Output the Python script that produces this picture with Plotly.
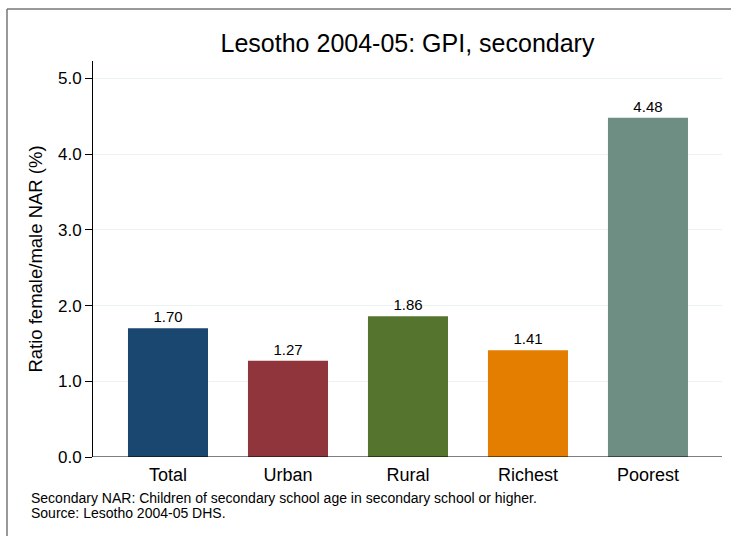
import plotly.graph_objects as go

categories = ["Total", "Urban", "Rural", "Richest", "Poorest"]
values = [1.70, 1.27, 1.86, 1.41, 4.48]
value_labels = ["1.70", "1.27", "1.86", "1.41", "4.48"]
colors = ["#1a476f", "#90353b", "#55752f", "#e37e00", "#6e8e84"]
y_ticks = [0, 1, 2, 3, 4, 5]
y_tick_labels = ["0.0", "1.0", "2.0", "3.0", "4.0", "5.0"]

title = "Lesotho 2004-05: GPI, secondary"
y_title = "Ratio female/male NAR (%)"
note1 = "Secondary NAR: Children of secondary school age in secondary school or higher."
note2 = "Source: Lesotho 2004-05 DHS."

FONT = "Liberation Sans, Arial, sans-serif"

fig = go.Figure()
fig.add_trace(go.Bar(
    x=list(range(len(categories))),
    y=values,
    marker=dict(color=colors, line=dict(width=0)),
    text=value_labels,
    textposition="outside",
    textfont=dict(size=15, color="#000000", family=FONT),
    cliponaxis=False,
    width=0.667,
    hoverinfo="skip",
))

PX0, PW, PY0, PH = 93, 629, 457, 396  # plot area origin/size in pixels


def px_x(v):
    return (v - PX0) / PW


def px_y(v):
    return (PY0 - v) / PH


fig.update_layout(
    width=731, height=536,
    margin=dict(l=93, r=9, t=61, b=79, autoexpand=False),
    paper_bgcolor="white",
    plot_bgcolor="white",
    showlegend=False,
    font=dict(family=FONT, color="#000000"),
    title=dict(text=title, x=0.5, xanchor="center", xref="paper",
               y=1 - 43 / 536, yanchor="middle",
               font=dict(size=25, family=FONT, color="#000000")),
    xaxis=dict(
        range=[-0.625, 4.617],
        tickmode="array",
        tickvals=list(range(len(categories))),
        ticktext=categories,
        ticks="outside",
        ticklen=1,
        tickcolor="rgba(0,0,0,0)",
        showgrid=False,
        showline=False,
        zeroline=False,
        tickfont=dict(size=18, family=FONT),
        fixedrange=True,
    ),
    yaxis=dict(
        range=[0, 5.23],
        tickmode="array",
        tickvals=y_ticks,
        ticktext=y_tick_labels,
        ticks="outside",
        ticklen=7,
        tickcolor="#000000",
        tickwidth=1,
        showgrid=True,
        gridcolor="#eaf2f3",
        gridwidth=1,
        showline=True,
        linecolor="#000000",
        linewidth=1,
        zeroline=False,
        tickfont=dict(size=17, family=FONT),
        title=dict(text=y_title, font=dict(size=18.5, family=FONT), standoff=10),
        automargin=False,
        fixedrange=True,
    ),
    shapes=[
        dict(type="line", xref="paper", yref="paper",
             x0=px_x(7), x1=px_x(731), y0=px_y(9), y1=px_y(9),
             line=dict(color="#777777", width=1.5), layer="below"),
        dict(type="line", xref="paper", yref="paper",
             x0=px_x(7), x1=px_x(7), y0=px_y(9), y1=px_y(536),
             line=dict(color="#777777", width=1.5), layer="below"),
        dict(type="line", xref="paper", yref="y", x0=0, x1=1, y0=0, y1=0,
             line=dict(color="#000000", width=1.2)),
    ],
    annotations=[
        dict(text=note1, xref="paper", yref="paper",
             x=px_x(29), y=px_y(498), xanchor="left", yanchor="middle",
             showarrow=False, font=dict(size=14, family=FONT)),
        dict(text=note2, xref="paper", yref="paper",
             x=px_x(29), y=px_y(512.5), xanchor="left", yanchor="middle",
             showarrow=False, font=dict(size=14, family=FONT)),
    ],
)

fig.write_html(
    "out.html",
    config={"displayModeBar": False},
    post_script=(
        "document.body.style.margin='0px';"
        "document.body.style.overflow='hidden';"
        "document.documentElement.style.overflow='hidden';"
    ),
)
